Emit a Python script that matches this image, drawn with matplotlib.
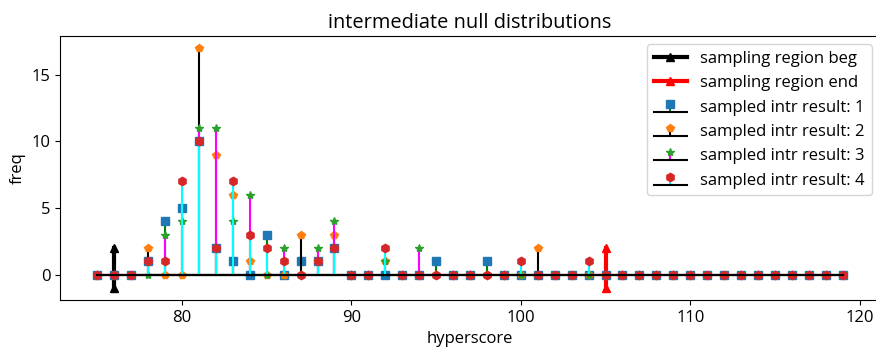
import numpy as np
import matplotlib
matplotlib.use("Agg")
import matplotlib.pyplot as plt

plt.rcParams['font.family'] = ['Open Sans', 'DejaVu Sans']
plt.rcParams['font.size'] = 12

# hyperscore bins 75..119
scores = list(range(75, 120))

# sampled intermediate results (freq per hyperscore), nonzero entries only
res1_nz = {78: 1, 79: 4, 80: 5, 81: 10, 82: 2, 83: 1, 85: 3, 87: 1, 88: 1, 89: 2, 95: 1, 98: 1}
res2_nz = {78: 2, 81: 17, 82: 9, 83: 6, 84: 1, 87: 3, 88: 1, 89: 3, 92: 1, 101: 2}
res3_nz = {79: 3, 80: 4, 81: 11, 82: 11, 83: 4, 84: 6, 86: 2, 88: 2, 89: 4, 92: 1, 94: 2}
res4_nz = {78: 1, 79: 1, 80: 7, 81: 10, 82: 2, 83: 7, 84: 3, 85: 2, 86: 1, 88: 1, 89: 2, 92: 2, 100: 1, 104: 1}

results = [res1_nz, res2_nz, res3_nz, res4_nz]
stem_colors = ['green', 'black', 'magenta', 'cyan']
markers = ['C0s', 'C1p', 'C2*', 'C3h']

region_beg = 76
region_end = 105
arrow_y = [-1, 2]

fig = plt.figure(figsize=(8.76, 3.47), dpi=100)
ax = fig.add_axes([60 / 876, 47 / 347, 820 / 876, 264 / 347])

ax.plot([region_beg, region_beg], arrow_y, 'k-^', lw=3, label='sampling region beg')
ax.plot([region_end, region_end], arrow_y, 'r-^', lw=3, label='sampling region end')

for i, res in enumerate(results):
    freq = [res.get(s, 0) for s in scores]
    ax.stem(scores, freq, linefmt='-', markerfmt=markers[i],
            basefmt='k-', label='sampled intr result: %d' % (i + 1))
    # stem line colour set afterwards (full-name colours)
    ax.containers[-1].stemlines.set_color(stem_colors[i])

ax.set_title('intermediate null distributions')
ax.set_xlabel('hyperscore')
ax.set_ylabel('freq')
ax.set_yticks([0, 5, 10, 15])
ax.legend(loc='upper right')

plt.savefig('out.png')
